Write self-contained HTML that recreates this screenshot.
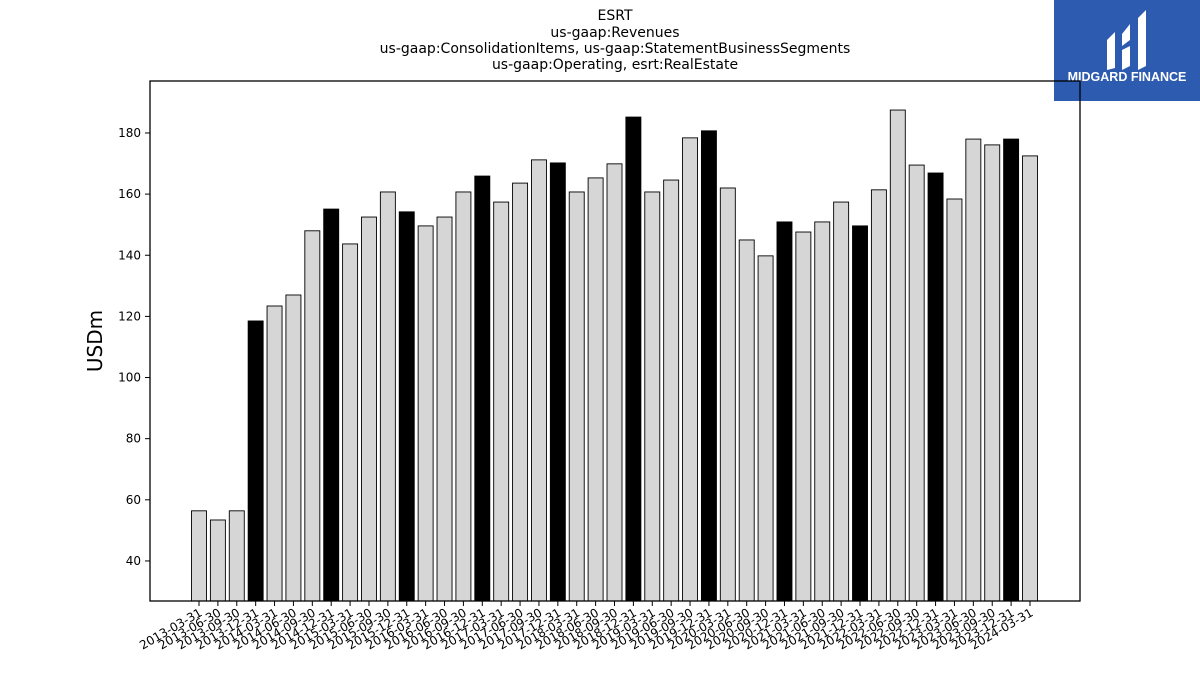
<!DOCTYPE html>
<html><head><meta charset="utf-8"><style>
body{margin:0;background:#fff;font-family:"Liberation Sans","DejaVu Sans",sans-serif}
</style></head><body>
<svg id="chart" width="1200" height="675" xmlns="http://www.w3.org/2000/svg" font-family="DejaVu Sans, Liberation Sans, sans-serif">
<g font-size="14" text-anchor="middle" fill="#000">
<text x="615" y="20">ESRT</text>
<text x="615" y="37">us-gaap:Revenues</text>
<text x="615" y="53">us-gaap:ConsolidationItems, us-gaap:StatementBusinessSegments</text>
<text x="615" y="69">us-gaap:Operating, esrt:RealEstate</text>
</g>
<g>
<rect x="1054" y="0" width="146" height="101" fill="#2c5bb0"/>
<path d="M1107 40 L1115 32 L1115 68 L1107 70 Z M1122 34 L1130 24 L1130 40 L1122 46 Z M1122 50 L1130 46 L1130 66 L1122 70 Z M1138 18 L1146 10 L1146 66 L1138 70 Z" fill="#fff"/>
<text x="1127" y="81" font-size="12.5" font-weight="bold" fill="#fff" text-anchor="middle" font-family="Liberation Sans, sans-serif">MIDGARD FINANCE</text>
</g>
<text x="102" y="341" font-size="20" text-anchor="middle" transform="rotate(-90 102 341)">USDm</text>
<g id="bars"></g>
<g id="yticks"></g>
<g id="xticks"></g>
<rect x="150" y="81" width="930" height="520" fill="none" stroke="#000" stroke-width="1.3"/>
</svg>
<script>
const categories=[];
(function(){const m=["03-31","06-30","09-30","12-31"];for(let y=2013;y<=2024;y++)for(let q=0;q<4;q++){if(y===2024&&q>0)break;categories.push(y+"-"+m[q]);}})();
const values=[56.4,53.4,56.4,118.5,123.4,127,148,155.1,143.7,152.5,160.7,154.2,149.6,152.5,160.7,165.9,157.4,163.6,171.2,170.2,160.7,165.3,169.9,185.2,160.7,164.6,178.4,180.7,162,145,139.8,150.9,147.6,150.9,157.4,149.6,161.4,187.5,169.5,166.9,158.4,178,176.1,178,172.5];
const yTicks=[40,60,80,100,120,140,160,180];
const yMin=26.9,yMax=197;
const NS="http://www.w3.org/2000/svg";
const L=150,R=1080,T=81,B=601;
function ys(v){return B-(v-yMin)/(yMax-yMin)*(B-T);}
const x0=199,dx=(1030-199)/(categories.length-1);
function xs(i){return x0+i*dx;}
const gb=document.getElementById('bars'),gy=document.getElementById('yticks'),gx=document.getElementById('xticks');
values.forEach((v,i)=>{const r=document.createElementNS(NS,'rect');


r.setAttribute('x',xs(i)-7.5);r.setAttribute('width',15);r.setAttribute('y',ys(v));r.setAttribute('height',B-ys(v));
r.setAttribute('fill',categories[i].endsWith('12-31')?'#000':'#d6d6d6');r.setAttribute('stroke','#000');r.setAttribute('stroke-width','0.9');gb.appendChild(r);
const t=document.createElementNS(NS,'line');t.setAttribute('x1',xs(i));t.setAttribute('x2',xs(i));t.setAttribute('y1',B);t.setAttribute('y2',B+5);t.setAttribute('stroke','#000');gx.appendChild(t);
const tx=document.createElementNS(NS,'text');


tx.setAttribute('font-size','12');tx.setAttribute('text-anchor','end');
tx.setAttribute('transform','translate('+(xs(i)+4)+','+(B+14)+') rotate(-30)');tx.textContent=categories[i];gx.appendChild(tx);});
yTicks.forEach(v=>{const t=document.createElementNS(NS,'line');t.setAttribute('x1',L-5);t.setAttribute('x2',L);t.setAttribute('y1',ys(v));t.setAttribute('y2',ys(v));t.setAttribute('stroke','#000');gy.appendChild(t);
const tx=document.createElementNS(NS,'text');


tx.setAttribute('font-size','12');tx.setAttribute('text-anchor','end');tx.setAttribute('x',L-9);tx.setAttribute('y',ys(v)+4);tx.textContent=v;gy.appendChild(tx);});
</script>
</body></html>
